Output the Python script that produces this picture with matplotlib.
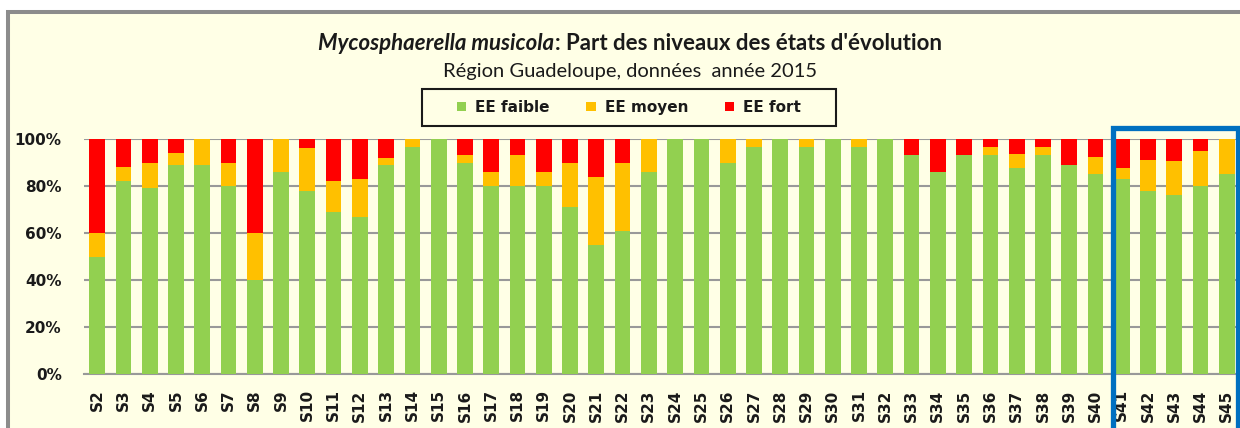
import numpy as np
import matplotlib
matplotlib.use("Agg")
import matplotlib.pyplot as plt
from matplotlib.patches import Rectangle

# Données : part des niveaux des états d'évolution (%)
semaines = ["S%d" % i for i in range(2, 46)]
ee_faible = [50, 82, 79, 89, 89, 80, 40, 86, 78, 69, 67, 89, 96.5,
             100, 90, 80, 80, 80, 71, 55, 61, 86, 100, 100, 90, 96.5, 100, 96.5,
             100, 96.5, 100, 93, 86, 93, 93, 87.5, 93, 89, 85,
             83, 78, 76, 80, 85]
ee_moyen = [10, 6, 11, 5, 11, 10, 20, 14, 18, 13, 16, 3, 3.5,
            0, 3, 6, 13, 6, 19, 29, 29, 14, 0, 0, 10, 3.5, 0, 3.5,
            0, 3.5, 0, 0, 0, 0, 3.5, 6, 3.5, 0, 7.5,
            4.5, 13, 14.5, 15, 15]
ee_fort = [40, 12, 10, 6, 0, 10, 40, 0, 4, 18, 17, 8, 0,
           0, 7, 14, 7, 14, 10, 16, 10, 0, 0, 0, 0, 0, 0, 0,
           0, 0, 0, 7, 14, 7, 3.5, 6.5, 3.5, 11, 7.5,
           12.5, 9, 9.5, 5, 0]
series = ["EE faible", "EE moyen", "EE fort"]
couleurs = ["#92D050", "#FFC000", "#FF0000"]

W, H = 1240, 428
fond = "#FFFFE6"
fig = plt.figure(figsize=(W / 100, H / 100), dpi=100)
fig.patch.set_facecolor("white")

# zone du graphique (fond jaune pâle + bordure grise)
fig.patches.append(Rectangle((7.5 / W, -0.1), 1.2, 1 - 12 / H + 0.1,
                             transform=fig.transFigure, facecolor=fond,
                             edgecolor="#8C8C8C", linewidth=2.9, zorder=-5))

ax = fig.add_axes([84 / W, (H - 374) / H, (1240 - 84) / W, 235 / H])
ax.set_facecolor(fond)
ax.patch.set_alpha(0)

x = np.arange(len(semaines))
bas = np.zeros(len(semaines))
handles = []
for vals, nom, c in zip([ee_faible, ee_moyen, ee_fort], series, couleurs):
    v = np.array(vals, dtype=float)
    b = ax.bar(x, v, 0.6, bottom=bas, color=c, label=nom, zorder=3)
    handles.append(b)
    bas += v

ax.set_xlim(-0.5, len(semaines) - 0.5)
ax.set_ylim(0, 100)
ax.set_yticks(np.arange(0, 101, 20))
ax.set_yticklabels(["%d%%" % v for v in range(0, 101, 20)])
ax.set_xticks(x)
ax.set_xticklabels(semaines, rotation=90)
ax.tick_params(length=0, labelsize=11)
ax.tick_params(axis="x", pad=11)
ax.tick_params(axis="y", pad=16)
for lab in ax.get_xticklabels() + ax.get_yticklabels():
    lab.set_fontweight("bold")
    lab.set_color("#1a1a1a")
ax.grid(axis="y", color="#999999", linewidth=1.5, zorder=1)
for s in ["top", "right", "left"]:
    ax.spines[s].set_visible(False)
ax.spines["bottom"].set_color("#999999")
ax.spines["bottom"].set_linewidth(1.5)

# titre en deux parties (italique + normal)
r = fig.canvas.get_renderer()
y1 = 1 - 43 / H
t1 = fig.text(0, y1, "Mycosphaerella musicola", style="italic", weight="bold",
              fontsize=16, family="Lato", va="center", color="#1a1a1a")
t2 = fig.text(0, y1, ": Part des niveaux des états d'évolution", weight="bold",
              fontsize=16, family="Lato", va="center", color="#1a1a1a")
w1 = t1.get_window_extent(r).width
w2 = t2.get_window_extent(r).width
x0 = 630 - (w1 + w2) / 2
t1.set_x(x0 / W)
t2.set_x((x0 + w1) / W)
fig.text(630 / W, 1 - 71 / H, "Région Guadeloupe, données  année 2015",
         fontsize=14.5, family="Lato", ha="center", va="center", color="#1a1a1a")

# légende
fig.patches.append(Rectangle((422 / W, 1 - 126 / H), 414 / W, 37 / H,
                             transform=fig.transFigure, facecolor=fond,
                             edgecolor="#1a1a1a", linewidth=1.5, zorder=2))
leg = fig.legend(handles=handles, labels=series, loc="center",
                 bbox_to_anchor=(629 / W, 1 - 107.5 / H), ncol=3,
                 frameon=False, handlelength=0.6, handleheight=0.6,
                 handletextpad=0.6, columnspacing=2.4,
                 prop={"weight": "bold", "size": 11})
for t in leg.get_texts():
    t.set_color("#1a1a1a")

# cadre bleu autour des dernières semaines
fig.patches.append(Rectangle((1113.3 / W, -0.1), (1237.8 - 1113.3) / W,
                             1 - 127.8 / H + 0.1, transform=fig.transFigure,
                             facecolor="none", edgecolor="#0070C0",
                             linewidth=3.8, zorder=10))

fig.savefig("out.png", dpi=100, facecolor=fig.get_facecolor())
